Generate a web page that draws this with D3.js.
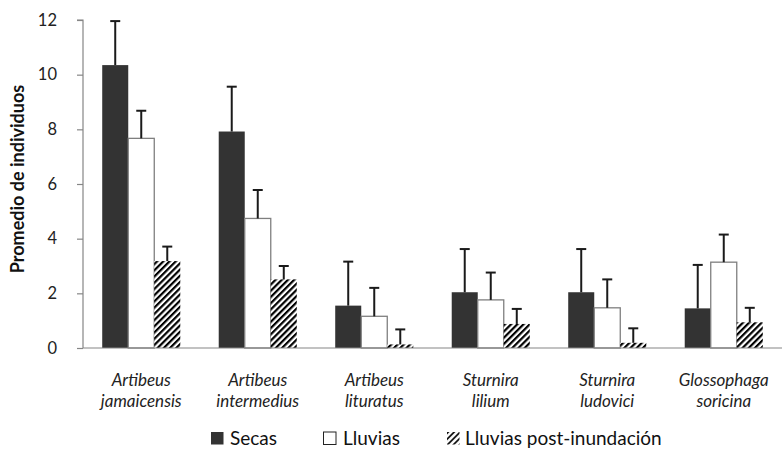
<!DOCTYPE html>
<html><head><meta charset="utf-8">
<script src="https://cdn.jsdelivr.net/npm/d3@7"></script>
<style>body{margin:0;background:#fff}svg{display:block}text{font-family:Lato,"Open Sans",sans-serif}</style>
</head><body><svg id="c" width="783" height="450"></svg>
<script>
const categories = [["Artibeus","jamaicensis"],["Artibeus","intermedius"],["Artibeus","lituratus"],["Sturnira","lilium"],["Sturnira","ludovici"],["Glossophaga","soricina"]];
const seriesNames = ["Secas","Lluvias","Lluvias post-inundación"];
const secas = [10.35, 7.92, 1.55, 2.04, 2.04, 1.45];
const lluvias = [7.67, 4.74, 1.16, 1.76, 1.47, 3.14];
const postInund = [3.18, 2.51, 0.13, 0.88, 0.19, 0.94];
const errSecas = [1.61, 1.64, 1.61, 1.58, 1.58, 1.59];
const errLluvias = [1.01, 1.04, 1.04, 1.00, 1.04, 1.01];
const errPost = [0.53, 0.49, 0.55, 0.55, 0.53, 0.53];
const yTicks = [0,2,4,6,8,10,12];

(function(){
const svg = d3.select("#c");
const defs = svg.append("defs");
const pat = defs.append("pattern").attr("id","hatch").attr("patternUnits","userSpaceOnUse")
  .attr("width",4.4).attr("height",4.4).attr("patternTransform","rotate(45)");
pat.append("rect").attr("width",4.4).attr("height",4.4).attr("fill","#fff");
pat.append("line").attr("x1",0).attr("y1",0).attr("x2",0).attr("y2",4.4).attr("stroke","#000").attr("stroke-width",4.4);
const pat2 = defs.append("pattern").attr("id","hatchS").attr("patternUnits","userSpaceOnUse")
  .attr("width",4.2).attr("height",4.2).attr("patternTransform","rotate(45)");
pat2.append("rect").attr("width",4.2).attr("height",4.2).attr("fill","#fff");
pat2.append("line").attr("x1",0).attr("y1",0).attr("x2",0).attr("y2",4.2).attr("stroke","#111").attr("stroke-width",3.6);

const pLeft=83, pRight=782, pTop=20, pBottom=348;
const x0 = d3.scaleBand().domain(d3.range(categories.length)).range([pLeft,pRight]).paddingInner(0.33).paddingOuter(0.165);
const x1 = d3.scaleBand().domain([0,1,2]).range([0,x0.bandwidth()]);
const y = d3.scaleLinear().domain([0,12]).range([pBottom,pTop]);

const data = [secas, lluvias, postInund];
const errs = [errSecas, errLluvias, errPost];
const fills = ["#333333","#ffffff","url(#hatch)"];

categories.forEach((c,i)=>{
  data.forEach((s,j)=>{
    const bx = x0(i)+x1(j), bw = x1.bandwidth();
    svg.append("rect").attr("x",bx).attr("y",y(s[i])).attr("width",bw).attr("height",pBottom-y(s[i]))
      .attr("fill",fills[j]).attr("stroke", j===1?"#7f7f7f":"none").attr("stroke-width",1.3);
    const cx = bx+bw/2;
    svg.append("line").attr("x1",cx).attr("x2",cx).attr("y1",y(s[i])).attr("y2",y(s[i]+errs[j][i]))
      .attr("stroke","#1a1a1a").attr("stroke-width",2);
    svg.append("line").attr("x1",cx-5).attr("x2",cx+5).attr("y1",y(s[i]+errs[j][i])).attr("y2",y(s[i]+errs[j][i]))
      .attr("stroke","#1a1a1a").attr("stroke-width",2);
  });
});

const yAxis = d3.axisLeft(y).tickValues(yTicks).tickSize(6).tickPadding(20);
const ga = svg.append("g").attr("transform",`translate(${pLeft},0)`).call(yAxis);
ga.select(".domain").attr("stroke","#868686").attr("stroke-width",1.2).attr("d",`M-6,${pTop}H0V${pBottom}`);
ga.selectAll(".tick line").attr("stroke","#868686").attr("stroke-width",1.2);
ga.selectAll(".tick text").attr("font-size",16.5).attr("fill","#222").attr("font-family","Lato,sans-serif");
svg.append("line").attr("x1",pLeft).attr("x2",pRight).attr("y1",pBottom).attr("y2",pBottom).attr("stroke","#868686").attr("stroke-width",1.2);

categories.forEach((c,i)=>{
  const cx = x0(i)+x0.bandwidth()/2;
  c.forEach((t,k)=>{
    svg.append("text").attr("x",cx).attr("y",386+k*21).attr("text-anchor","middle")
      .attr("font-size",17).attr("font-style","italic").attr("fill","#222").text(t);
  });
});

svg.append("text").attr("transform","translate(24,179) rotate(-90)").attr("text-anchor","middle")
  .attr("font-size",18).attr("font-weight","bold").attr("fill","#111").text("Promedio de individuos");

const leg = [{x:211,fill:"#333",stroke:"none",tx:230},{x:323.5,fill:"#fff",stroke:"#222",tx:343},{x:447,fill:"url(#hatchS)",stroke:"none",tx:465}];
leg.forEach((l,j)=>{
  svg.append("rect").attr("x",l.x).attr("y",432).attr("width",12.5).attr("height",12.5)
    .attr("fill",l.fill).attr("stroke",l.stroke).attr("stroke-width",1);
  svg.append("text").attr("x",l.tx).attr("y",445).attr("font-size",19).attr("fill","#111").text(seriesNames[j]);
});
})();
</script></body></html>
